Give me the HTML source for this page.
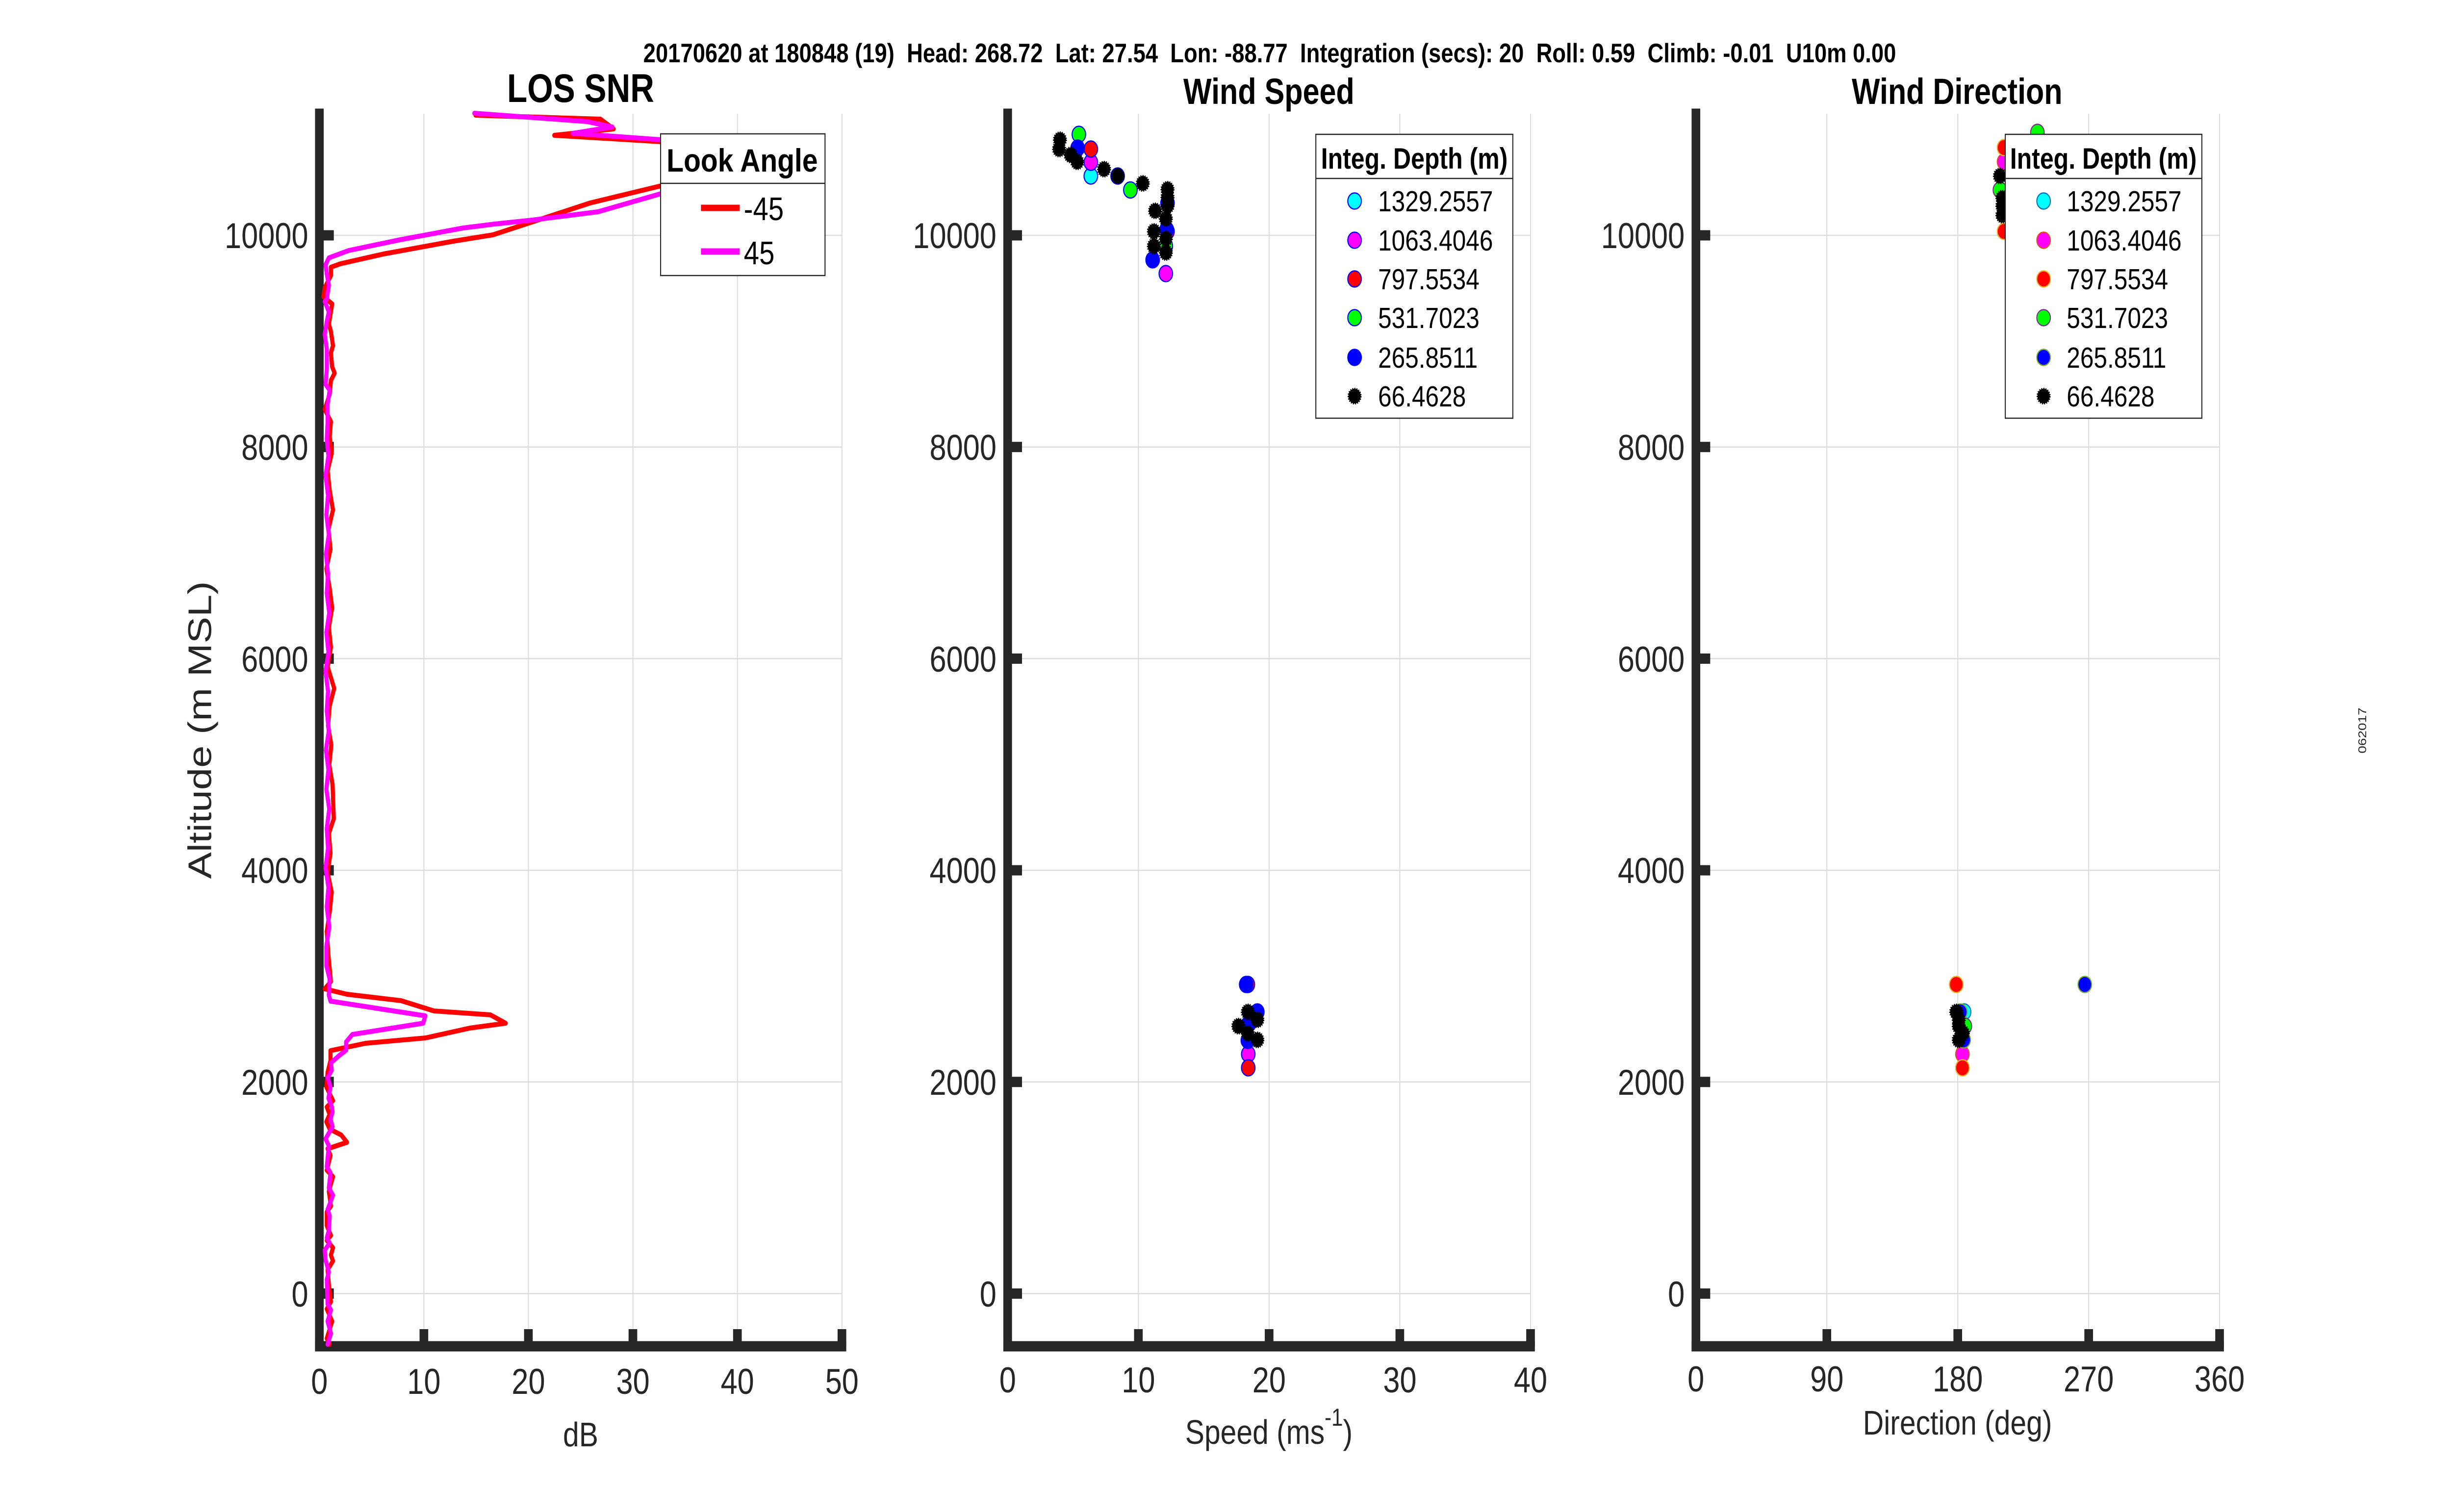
<!DOCTYPE html>
<html><head><meta charset="utf-8"><style>
html,body{margin:0;padding:0;background:#fff;width:100%;height:100%;overflow:hidden;}
svg{display:block;position:absolute;left:0;top:0;width:100vw;height:100vh;}
text{font-family:"Liberation Sans",Arial,sans-serif;}
</style></head><body>
<svg xmlns="http://www.w3.org/2000/svg" viewBox="0 0 5950 3084" preserveAspectRatio="none">
<rect x="0" y="0" width="5950" height="3084" fill="#fff"/>

<!-- main title -->
<text x="1561" y="127" font-size="55" font-weight="bold" fill="#000" textLength="3040" lengthAdjust="spacingAndGlyphs" xml:space="preserve" style="white-space:pre">20170620 at 180848 (19)  Head: 268.72  Lat: 27.54  Lon: -88.77  Integration (secs): 20  Roll: 0.59  Climb: -0.01  U10m 0.00</text>

<!-- GRIDLINES -->
<g stroke="#dcdcdc" stroke-width="2.5" fill="none">
  <line x1="1028.6" y1="232" x2="1028.6" y2="2746"/>
  <line x1="1282.2" y1="232" x2="1282.2" y2="2746"/>
  <line x1="1535.8" y1="232" x2="1535.8" y2="2746"/>
  <line x1="1789.4" y1="232" x2="1789.4" y2="2746"/>
  <line x1="2043" y1="232" x2="2043" y2="2746"/>
  <line x1="775" y1="2638.5" x2="2043" y2="2638.5"/>
  <line x1="775" y1="2206.8" x2="2043" y2="2206.8"/>
  <line x1="775" y1="1775.1" x2="2043" y2="1775.1"/>
  <line x1="775" y1="1343.4" x2="2043" y2="1343.4"/>
  <line x1="775" y1="911.7" x2="2043" y2="911.7"/>
  <line x1="775" y1="480" x2="2043" y2="480"/>
  <line x1="2762.4" y1="232" x2="2762.4" y2="2746"/>
  <line x1="3079.6" y1="232" x2="3079.6" y2="2746"/>
  <line x1="3396.8" y1="232" x2="3396.8" y2="2746"/>
  <line x1="3714" y1="232" x2="3714" y2="2746"/>
  <line x1="2445" y1="2638.5" x2="3714" y2="2638.5"/>
  <line x1="2445" y1="2206.8" x2="3714" y2="2206.8"/>
  <line x1="2445" y1="1775.1" x2="3714" y2="1775.1"/>
  <line x1="2445" y1="1343.4" x2="3714" y2="1343.4"/>
  <line x1="2445" y1="911.7" x2="3714" y2="911.7"/>
  <line x1="2445" y1="480" x2="3714" y2="480"/>
  <line x1="4433" y1="232" x2="4433" y2="2746"/>
  <line x1="4750.7" y1="232" x2="4750.7" y2="2746"/>
  <line x1="5068.4" y1="232" x2="5068.4" y2="2746"/>
  <line x1="5386" y1="232" x2="5386" y2="2746"/>
  <line x1="4115" y1="2638.5" x2="5386" y2="2638.5"/>
  <line x1="4115" y1="2206.8" x2="5386" y2="2206.8"/>
  <line x1="4115" y1="1775.1" x2="5386" y2="1775.1"/>
  <line x1="4115" y1="1343.4" x2="5386" y2="1343.4"/>
  <line x1="4115" y1="911.7" x2="5386" y2="911.7"/>
  <line x1="4115" y1="480" x2="5386" y2="480"/>
</g>

<!-- SPINES AND TICKS -->
<g fill="#262626">
  <rect x="764.5" y="221.5" width="21" height="2535"/>
  <rect x="764.5" y="2735.5" width="1289" height="21"/>
  <rect x="775" y="2628" width="35" height="21"/>
  <rect x="775" y="2196.3" width="35" height="21"/>
  <rect x="775" y="1764.6" width="35" height="21"/>
  <rect x="775" y="1332.9" width="35" height="21"/>
  <rect x="775" y="901.2" width="35" height="21"/>
  <rect x="775" y="469.5" width="35" height="21"/>
  <rect x="1018.1" y="2711" width="21" height="35"/>
  <rect x="1271.7" y="2711" width="21" height="35"/>
  <rect x="1525.3" y="2711" width="21" height="35"/>
  <rect x="1778.9" y="2711" width="21" height="35"/>
  <rect x="2032.5" y="2711" width="21" height="35"/>
  <rect x="2434.7" y="221.5" width="21" height="2535"/>
  <rect x="2434.7" y="2735.5" width="1289.8" height="21"/>
  <rect x="2445" y="2628" width="35" height="21"/>
  <rect x="2445" y="2196.3" width="35" height="21"/>
  <rect x="2445" y="1764.6" width="35" height="21"/>
  <rect x="2445" y="1332.9" width="35" height="21"/>
  <rect x="2445" y="901.2" width="35" height="21"/>
  <rect x="2445" y="469.5" width="35" height="21"/>
  <rect x="2751.9" y="2711" width="21" height="35"/>
  <rect x="3069.1" y="2711" width="21" height="35"/>
  <rect x="3386.3" y="2711" width="21" height="35"/>
  <rect x="3703.5" y="2711" width="21" height="35"/>
  <rect x="4104.8" y="221.5" width="21" height="2535"/>
  <rect x="4104.8" y="2735.5" width="1291.7" height="21"/>
  <rect x="4115" y="2628" width="35" height="21"/>
  <rect x="4115" y="2196.3" width="35" height="21"/>
  <rect x="4115" y="1764.6" width="35" height="21"/>
  <rect x="4115" y="1332.9" width="35" height="21"/>
  <rect x="4115" y="901.2" width="35" height="21"/>
  <rect x="4115" y="469.5" width="35" height="21"/>
  <rect x="4422.5" y="2711" width="21" height="35"/>
  <rect x="4740.2" y="2711" width="21" height="35"/>
  <rect x="5057.9" y="2711" width="21" height="35"/>
  <rect x="5375.5" y="2711" width="21" height="35"/>
</g>

<!-- TICK LABELS -->
<g font-size="73" fill="#262626" text-anchor="end">
  <text x="748" y="2665">0</text>
  <text x="748" y="2233">2000</text>
  <text x="748" y="1801">4000</text>
  <text x="748" y="1370">6000</text>
  <text x="748" y="938">8000</text>
  <text x="748" y="506">10000</text>
  <text x="2418" y="2665">0</text>
  <text x="2418" y="2233">2000</text>
  <text x="2418" y="1801">4000</text>
  <text x="2418" y="1370">6000</text>
  <text x="2418" y="938">8000</text>
  <text x="2418" y="506">10000</text>
  <text x="4088" y="2665">0</text>
  <text x="4088" y="2233">2000</text>
  <text x="4088" y="1801">4000</text>
  <text x="4088" y="1370">6000</text>
  <text x="4088" y="938">8000</text>
  <text x="4088" y="506">10000</text>
</g>
<g font-size="73" fill="#262626" text-anchor="middle">
  <text x="775" y="2843">0</text>
  <text x="1028.6" y="2843">10</text>
  <text x="1282.2" y="2843">20</text>
  <text x="1535.8" y="2843">30</text>
  <text x="1789.4" y="2843">40</text>
  <text x="2043" y="2843">50</text>
  <text x="2445.2" y="2840">0</text>
  <text x="2762.4" y="2840">10</text>
  <text x="3079.6" y="2840">20</text>
  <text x="3396.8" y="2840">30</text>
  <text x="3714" y="2840">40</text>
  <text x="4115.3" y="2838">0</text>
  <text x="4433" y="2838">90</text>
  <text x="4750.7" y="2838">180</text>
  <text x="5068.4" y="2838">270</text>
  <text x="5386" y="2838">360</text>
</g>

<!-- AXIS LABELS -->
<g font-size="70" fill="#262626" text-anchor="middle">
  <text x="1409" y="2950">dB</text>
  <text x="3079" y="2945">Speed (ms<tspan dy="-37" font-size="50">-1</tspan><tspan dy="37">)</tspan></text>
  <text x="4750" y="2926">Direction (deg)</text>
</g>
<text transform="translate(512,1489) rotate(-90)" font-size="80" fill="#262626" text-anchor="middle" textLength="607" lengthAdjust="spacingAndGlyphs">Altitude (m MSL)</text>
<text transform="translate(5742,1490) rotate(-90)" font-size="28" fill="#262626" text-anchor="middle">062017</text>

<!-- SUBPLOT TITLES -->
<g font-weight="bold" fill="#000" text-anchor="middle">
  <text x="1409" y="208" font-size="82" textLength="357" lengthAdjust="spacingAndGlyphs">LOS SNR</text>
  <text x="3079" y="212" font-size="74" textLength="415" lengthAdjust="spacingAndGlyphs">Wind Speed</text>
  <text x="4749" y="212" font-size="74" textLength="511" lengthAdjust="spacingAndGlyphs">Wind Direction</text>
</g>

<!-- SNR DATA -->
<g fill="none" stroke-width="10" stroke-linejoin="round" stroke-linecap="round">
<polyline stroke="#ff0000" points="1154,235 1457,243 1489,263 1345,276 1604,289 1850,300 1990,330 1850,360 1604,379 1432,414 1196,479 1100,492 931,518 826,538 803,545 803,562 788,587 785,605 806,620 803,636 798,661 803,676 808,705 803,720 806,748 812,761 803,776 800,804 788,835 803,860 800,891 805,925 795,960 800,1000 808,1040 797,1080 802,1120 792,1160 800,1200 806,1240 798,1280 803,1320 795,1360 811,1404 800,1440 796,1480 804,1520 799,1560 807,1600 810,1670 798,1700 802,1740 795,1780 805,1820 800,1860 793,1900 797,1950 803,2002 788,2017 842,2028 973,2041 1053,2062 1190,2070 1227,2087 1140,2097 1033,2117 887,2128 802,2143 802,2163 795,2187 792,2217 808,2245 793,2258 800,2273 792,2288 800,2303 828,2315 842,2330 795,2343 802,2357 793,2387 808,2400 798,2430 803,2460 793,2472 793,2500 803,2520 793,2530 808,2545 803,2560 808,2572 795,2590 798,2620 803,2655 793,2670 806,2695 793,2730 800,2742"/>
<polyline stroke="#ff00ff" points="1151,231 1425,248 1486,259 1390,272 1604,285 1850,296 1970,330 1850,370 1604,395 1451,432 1291,449 1200,457 1124,465 971,489 846,511 798,526 790,540 793,559 798,582 793,610 788,615 798,636 793,656 788,682 793,712 793,753 790,784 800,796 795,824 795,860 793,896 797,930 790,970 796,1010 792,1050 798,1090 791,1130 796,1170 793,1210 799,1250 792,1290 797,1330 790,1370 796,1410 793,1450 798,1490 791,1530 797,1570 792,1610 799,1650 793,1690 796,1730 790,1770 797,1810 793,1850 799,1890 792,1930 792,1970 800,1997 798,2030 802,2042 1032,2072 1027,2087 855,2110 840,2125 840,2142 823,2153 803,2168 805,2183 795,2198 802,2217 797,2240 805,2257 807,2268 802,2283 807,2298 790,2323 798,2337 793,2380 802,2392 798,2423 808,2438 795,2467 800,2480 798,2510 793,2525 800,2535 788,2550 790,2570 798,2595 793,2610 795,2660 803,2672 795,2695 803,2720 795,2742"/>
</g>

<!-- WIND SPEED DATA -->
<g stroke="#0000ff" stroke-width="2.5">
  <circle cx="2647" cy="359" r="16.5" fill="#00ffff"/>
  <circle cx="2647" cy="331" r="16.5" fill="#ff00ff"/>
  <circle cx="2829" cy="558" r="16.5" fill="#ff00ff"/>
  <circle cx="3029" cy="2150" r="16.5" fill="#ff00ff"/>
  <circle cx="2647" cy="304" r="16.5" fill="#ff0000"/>
  <circle cx="2833" cy="472" r="16.5" fill="#ff0000"/>
  <circle cx="3028" cy="2008" r="16.5" fill="#ff0000"/>
  <circle cx="3029" cy="2178" r="16.5" fill="#ff0000"/>
  <circle cx="2618" cy="274" r="16.5" fill="#00ff00"/>
  <circle cx="2743" cy="387.5" r="16.5" fill="#00ff00"/>
  <circle cx="2829" cy="502" r="16.5" fill="#00ff00"/>
  <circle cx="3031" cy="2088" r="16.5" fill="#00ff00"/>
  <circle cx="2615" cy="302" r="16.5" fill="#0000ff"/>
  <circle cx="2712" cy="359" r="16.5" fill="#0000ff"/>
  <circle cx="2833" cy="414" r="16.5" fill="#0000ff"/>
  <circle cx="2831" cy="468" r="16.5" fill="#0000ff"/>
  <circle cx="2797" cy="530" r="16.5" fill="#0000ff"/>
  <circle cx="3024" cy="2008" r="16.5" fill="#0000ff"/>
  <circle cx="3051" cy="2064" r="16.5" fill="#0000ff"/>
  <circle cx="3028" cy="2122" r="16.5" fill="#0000ff"/>
  <circle cx="3028" cy="2090" r="16.5" fill="#0000ff"/>
</g>
<g fill="#000" stroke="#000" stroke-width="4" stroke-dasharray="2.5 2.5">
  <circle cx="2572" cy="285" r="15"/>
  <circle cx="2570" cy="304" r="15"/>
  <circle cx="2598" cy="316" r="15"/>
  <circle cx="2614" cy="330" r="15"/>
  <circle cx="2679" cy="345" r="15"/>
  <circle cx="2712" cy="359" r="15"/>
  <circle cx="2773" cy="374" r="15"/>
  <circle cx="2833" cy="386" r="15"/>
  <circle cx="2833" cy="402" r="15"/>
  <circle cx="2833" cy="420" r="15"/>
  <circle cx="2803" cy="430" r="15"/>
  <circle cx="2829" cy="446" r="15"/>
  <circle cx="2800" cy="472" r="15"/>
  <circle cx="2829" cy="487" r="15"/>
  <circle cx="2800" cy="502" r="15"/>
  <circle cx="2829" cy="515" r="15"/>
  <circle cx="3028" cy="2064" r="15"/>
  <circle cx="3051" cy="2080" r="15"/>
  <circle cx="3005" cy="2093" r="15"/>
  <circle cx="3028" cy="2108" r="15"/>
  <circle cx="3051" cy="2121" r="15"/>
</g>

<!-- WIND DIRECTION DATA -->
<g stroke-width="2.5">
  <circle cx="4880" cy="359" r="16.5" fill="#00ffff" stroke="#0072bd"/>
  <circle cx="4766" cy="2064" r="16.5" fill="#00ffff" stroke="#0072bd"/>
  <circle cx="4863" cy="330" r="16.5" fill="#ff00ff" stroke="#d95319"/>
  <circle cx="4762" cy="2150" r="16.5" fill="#ff00ff" stroke="#d95319"/>
  <circle cx="4863" cy="301" r="16.5" fill="#ff0000" stroke="#edb120"/>
  <circle cx="4863" cy="472" r="16.5" fill="#ff0000" stroke="#edb120"/>
  <circle cx="4747" cy="2008" r="16.5" fill="#ff0000" stroke="#edb120"/>
  <circle cx="4762" cy="2178" r="16.5" fill="#ff0000" stroke="#edb120"/>
  <circle cx="4944" cy="270" r="16.5" fill="#00ff00" stroke="#7e2f8e"/>
  <circle cx="4853" cy="387.5" r="16.5" fill="#00ff00" stroke="#7e2f8e"/>
  <circle cx="4768" cy="2093" r="16.5" fill="#00ff00" stroke="#7e2f8e"/>
  <circle cx="5059" cy="2008" r="16.5" fill="#0000ff" stroke="#77ac30"/>
  <circle cx="4757" cy="2064" r="16.5" fill="#0000ff" stroke="#77ac30"/>
  <circle cx="4765" cy="2121" r="16.5" fill="#0000ff" stroke="#77ac30"/>
  <circle cx="4880" cy="414" r="16.5" fill="#0000ff" stroke="#77ac30"/>
</g>
<g fill="#000" stroke="#000" stroke-width="4" stroke-dasharray="2.5 2.5">
  <circle cx="4853" cy="359" r="15"/>
  <circle cx="4859" cy="404" r="15"/>
  <circle cx="4859" cy="420" r="15"/>
  <circle cx="4859" cy="439" r="15"/>
  <circle cx="4747" cy="2064" r="15"/>
  <circle cx="4753" cy="2080" r="15"/>
  <circle cx="4753" cy="2093" r="15"/>
  <circle cx="4763" cy="2107" r="15"/>
  <circle cx="4753" cy="2121" r="15"/>
</g>

<!-- LEGEND 1 -->
<rect x="1603" y="273" width="399" height="289" fill="#fff" stroke="#262626" stroke-width="2.5"/>
<line x1="1603" y1="374" x2="2002" y2="374" stroke="#262626" stroke-width="2.5"/>
<text x="1801" y="350" font-size="66" font-weight="bold" text-anchor="middle" fill="#000" textLength="367" lengthAdjust="spacingAndGlyphs">Look Angle</text>
<line x1="1701" y1="424" x2="1795" y2="424" stroke="#ff0000" stroke-width="13"/>
<line x1="1701" y1="513" x2="1795" y2="513" stroke="#ff00ff" stroke-width="13"/>
<text x="1805" y="449" font-size="67" fill="#000">-45</text>
<text x="1805" y="539" font-size="67" fill="#000">45</text>

<!-- LEGEND 2 -->
<rect x="3193" y="274" width="478" height="579" fill="#fff" stroke="#262626" stroke-width="2.5"/>
<line x1="3193" y1="364" x2="3671" y2="364" stroke="#262626" stroke-width="2.5"/>
<text x="3432" y="344" font-size="60" font-weight="bold" text-anchor="middle" fill="#000" textLength="453" lengthAdjust="spacingAndGlyphs">Integ. Depth (m)</text>
<g stroke="#0000ff" stroke-width="2.5">
  <circle cx="3287" cy="410" r="16.5" fill="#00ffff"/>
  <circle cx="3287" cy="490" r="16.5" fill="#ff00ff"/>
  <circle cx="3287" cy="569" r="16.5" fill="#ff0000"/>
  <circle cx="3287" cy="648" r="16.5" fill="#00ff00"/>
  <circle cx="3287" cy="729" r="16.5" fill="#0000ff"/>
</g>
<circle cx="3287" cy="808" r="15" fill="#000" stroke="#000" stroke-width="4" stroke-dasharray="2.5 2.5"/>
<g font-size="59" fill="#000">
  <text x="3344" y="431">1329.2557</text>
  <text x="3344" y="511">1063.4046</text>
  <text x="3344" y="590">797.5534</text>
  <text x="3344" y="669">531.7023</text>
  <text x="3344" y="750">265.8511</text>
  <text x="3344" y="829">66.4628</text>
</g>

<!-- LEGEND 3 -->
<rect x="4866" y="274" width="477" height="579" fill="#fff" stroke="#262626" stroke-width="2.5"/>
<line x1="4866" y1="364" x2="5343" y2="364" stroke="#262626" stroke-width="2.5"/>
<text x="5104" y="344" font-size="60" font-weight="bold" text-anchor="middle" fill="#000" textLength="453" lengthAdjust="spacingAndGlyphs">Integ. Depth (m)</text>
<g stroke-width="2.5">
  <circle cx="4959" cy="410" r="16.5" fill="#00ffff" stroke="#0072bd"/>
  <circle cx="4959" cy="490" r="16.5" fill="#ff00ff" stroke="#d95319"/>
  <circle cx="4959" cy="569" r="16.5" fill="#ff0000" stroke="#edb120"/>
  <circle cx="4959" cy="648" r="16.5" fill="#00ff00" stroke="#7e2f8e"/>
  <circle cx="4959" cy="729" r="16.5" fill="#0000ff" stroke="#77ac30"/>
</g>
<circle cx="4959" cy="808" r="15" fill="#000" stroke="#000" stroke-width="4" stroke-dasharray="2.5 2.5"/>
<g font-size="59" fill="#000">
  <text x="5015" y="431">1329.2557</text>
  <text x="5015" y="511">1063.4046</text>
  <text x="5015" y="590">797.5534</text>
  <text x="5015" y="669">531.7023</text>
  <text x="5015" y="750">265.8511</text>
  <text x="5015" y="829">66.4628</text>
</g>
</svg>
</body></html>
